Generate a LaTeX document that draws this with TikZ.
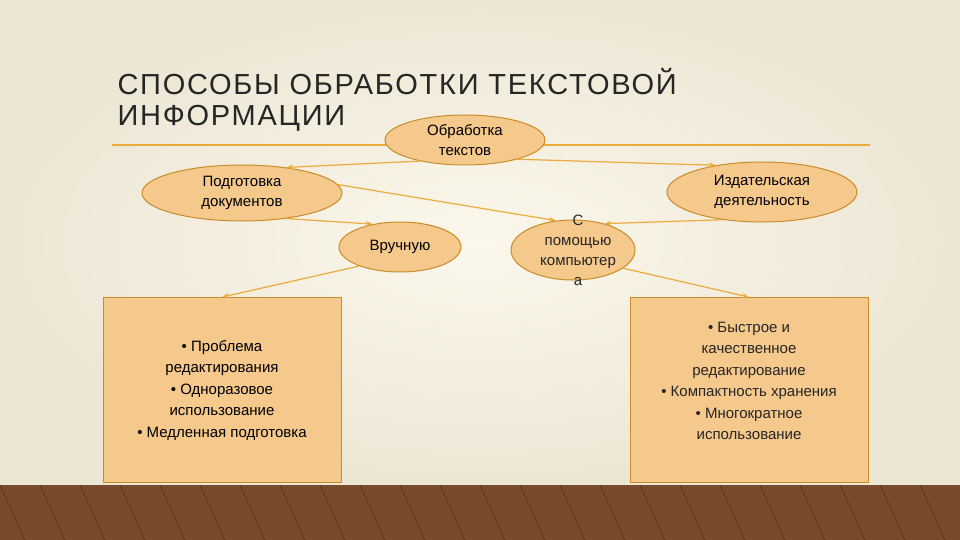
\documentclass[tikz,border=0pt]{standalone}
\usepackage{fontspec}
\setmainfont{Liberation Sans}
\usetikzlibrary{shapes.geometric,arrows.meta}
\definecolor{fillc}{RGB}{245,200,140}
\definecolor{edgec}{RGB}{200,140,40}
\definecolor{linec}{RGB}{235,170,60}
\definecolor{bgc}{RGB}{248,242,222}
\definecolor{wood}{RGB}{120,75,45}
\tikzset{
 ell/.style={ellipse,draw=edgec,fill=fillc,line width=1pt,inner sep=0pt,align=center,font=\fontsize{15}{20}\selectfont},
 boxx/.style={draw=edgec,fill=fillc,line width=0.8pt,align=center,font=\fontsize{15}{21.5}\selectfont},
 txt/.style={font=\fontsize{15}{20}\selectfont,align=center,text=black!85},
 arr/.style={linec,line width=1.2pt,-{Stealth[length=7pt]}}
}
\begin{document}
\begin{tikzpicture}[x=1pt,y=-1pt]
\useasboundingbox (0,0) rectangle (960,540);
\shade[inner color=bgc!60!white,outer color=bgc!90!gray] (0,0) rectangle (960,485);
\fill[wood] (0,485) rectangle (960,540);
\foreach \x in {0,40,...,960} \draw[wood!70!black,line width=0.6pt] (\x,485) -- (\x+25,540);
\node[anchor=west,font=\fontsize{29}{31}\selectfont,align=left,text=black!85] (title) at (114,100) {\addfontfeature{LetterSpace=6}СПОСОБЫ ОБРАБОТКИ ТЕКСТОВОЙ\\\addfontfeature{LetterSpace=6}ИНФОРМАЦИИ};
\draw[linec,line width=1.5pt] (112,145) -- (870,145);
\node[ell,minimum width=160,minimum height=50] (o) at (465,140) {Обработка\\текстов};
\node[ell,minimum width=200,minimum height=56] (p) at (242,193) {Подготовка\\документов};
\node[ell,minimum width=190,minimum height=60] (i) at (762,192) {Издательская\\деятельность};
\node[ell,minimum width=122,minimum height=50] (v) at (400,247) {Вручную};
\node[ell,minimum width=124,minimum height=60] (k) at (573,250) {};
\node[txt] (kt) at (578,250) {С\\помощью\\компьютер\\а};
\node[boxx,minimum width=238,minimum height=185] (l) at (222,390) {• Проблема\\редактирования\\• Одноразовое\\использование\\• Медленная подготовка};
\node[boxx,minimum width=238,minimum height=185] (r) at (749,390) {};
\node[txt,font=\fontsize{15}{21.5}\selectfont] (rt) at (749,381) {• Быстрое и\\качественное\\редактирование\\• Компактность хранения\\• Многократное\\использование};
\draw[arr] (o.205) -- (p.30);
\draw[arr] (o.-20) -- (i.150);
\draw[arr] (p.-30) -- (v.140);
\draw[arr] (p.5) -- (k.120);
\draw[arr] (i.-145) -- (k.40);
\draw[arr] (v.205) -- (l.north);
\draw[arr] (k.-20) -- (r.north);
\end{tikzpicture}
\end{document}
